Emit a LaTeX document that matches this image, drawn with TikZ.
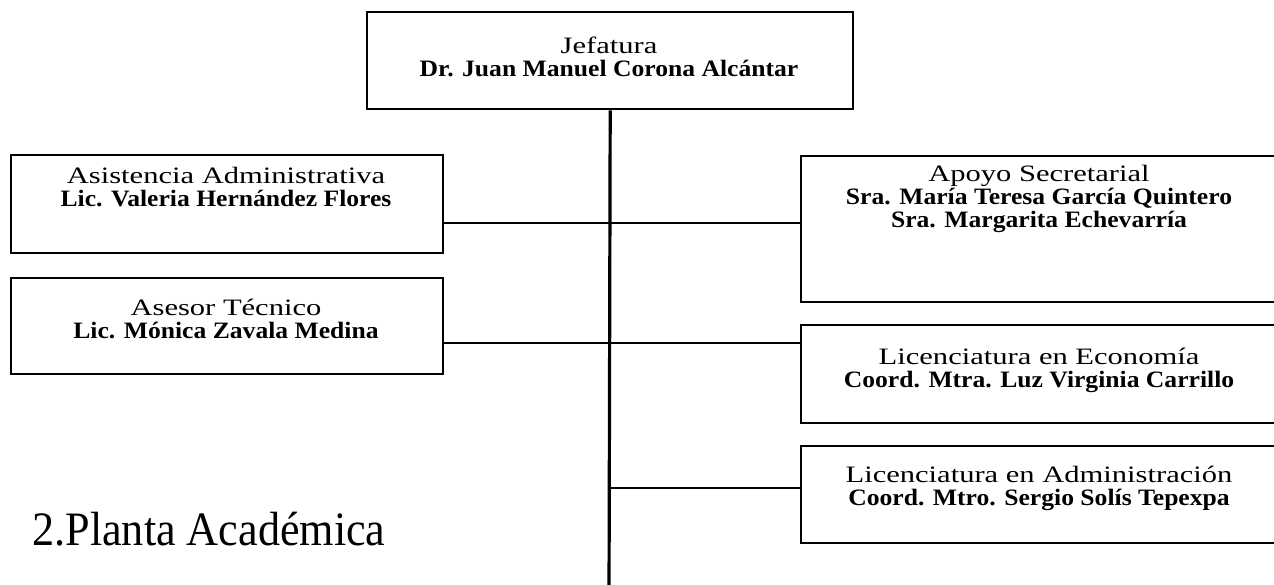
\documentclass[tikz,border=0pt]{standalone}
\usepackage{fontspec}
\setmainfont{Liberation Serif}[FakeStretch=1.3]
\newfontfamily\heavyfont{Liberation Serif}[FakeStretch=1.09]
\newfontfamily\titlefont{Liberation Serif}[FakeStretch=0.92]
\newcommand{\who}[1]{{\heavyfont\bfseries #1}}

\begin{document}
\begin{tikzpicture}[x=0.5pt,y=-0.5pt,
	box/.style={draw, line width=1.2pt, inner sep=0pt, anchor=north west},
	txt/.style={align=center, anchor=base, inner sep=0pt, font=\fontsize{11.75}{11.3}\selectfont},
	link/.style={line width=1.3pt},
	spine/.style={line width=1.6pt}]
	\fill[white] (0,0) rectangle (1274,584);
	\useasboundingbox (0,0) rectangle (1274,584);
	\clip (0,0) rectangle (1274,584);

	% boxes
	\node[box, minimum width=243pt, minimum height=48.5pt] (jefe) at (366,11) {};
	\node[box, minimum width=216pt, minimum height=49pt] (asis) at (10,154) {};
	\node[box, minimum width=216pt, minimum height=48pt] (ases) at (10,277) {};
	\node[box, minimum width=239pt, minimum height=73pt] (apoyo) at (800,155) {};
	\node[box, minimum width=239pt, minimum height=49pt] (econ) at (800,324) {};
	\node[box, minimum width=239pt, minimum height=48.5pt] (admin) at (800,445) {};

	% texts (base = last line)
	\node[txt] (jefe-t) at (609,76) {Jefatura\\\who{Dr. Juan Manuel Corona Alcántar}};
	\node[txt] (asis-t) at (226,206) {Asistencia Administrativa\\\who{Lic. Valeria Hernández Flores}};
	\node[txt] (ases-t) at (226,338) {Asesor Técnico\\\who{Lic. Mónica Zavala Medina}};
	\node[txt] (apoyo-t) at (1039,227) {Apoyo Secretarial\\\who{Sra. María Teresa García Quintero}\\\who{Sra. Margarita Echevarría}};
	\node[txt] (econ-t) at (1039,387) {Licenciatura en Economía\\\who{Coord. Mtra. Luz Virginia Carrillo}};
	\node[txt] (admin-t) at (1039,505) {Licenciatura en Administración\\\who{Coord. Mtro. Sergio Solís Tepexpa}};
	\node[anchor=base west, inner sep=0pt, font=\titlefont\fontsize{24}{24}\selectfont] (planta) at (32,545) {2.Planta Académica};

	% lines
	\coordinate (foot) at (609,600);
	\coordinate (r1) at (609,223);
	\coordinate (r2) at (609,343);
	\coordinate (r3) at (609,488);
	\draw[spine] (jefe.south) -- (foot);
	\draw[link] (asis.east |- r1) -- (apoyo.west |- r1);
	\draw[link] (ases.east |- r2) -- (econ.west |- r2);
	\draw[link] (r3) -- (admin.west |- r3);
\end{tikzpicture}
\end{document}
